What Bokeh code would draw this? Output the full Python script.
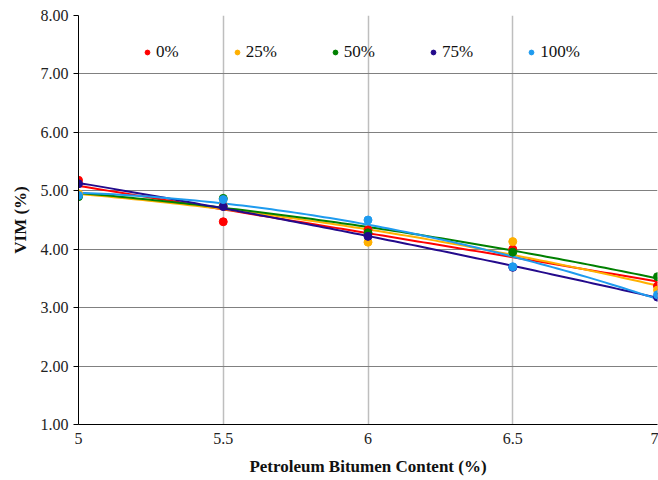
import numpy as np
from bokeh.plotting import figure
from bokeh.models import Legend, LegendItem, FixedTicker, NumeralTickFormatter, Range1d
from bokeh.embed import file_html
from bokeh.resources import INLINE

bitumen = [5, 5.5, 6, 6.5, 7]
vim_0 = [5.18, 4.47, 4.33, 4.00, 3.37]
vim_25 = [4.95, 4.75, 4.12, 4.13, 3.30]
vim_50 = [4.90, 4.87, 4.28, 3.95, 3.53]
vim_75 = [5.12, 4.73, 4.22, 3.69, 3.18]
vim_100 = [4.92, 4.85, 4.50, 3.70, 3.22]
labels = ["0%", "25%", "50%", "75%", "100%"]
colors = ["#FF0000", "#FFB000", "#008000", "#230A8C", "#1E9BEF"]
series = [vim_0, vim_25, vim_50, vim_75, vim_100]

p = figure(width=658, height=480, output_backend="svg", toolbar_location=None,
           x_range=Range1d(5, 7), y_range=Range1d(1, 8),
           min_border_left=78, min_border_right=1, min_border_top=15, min_border_bottom=56)
p.outline_line_color = None
p.background_fill_color = "white"

p.xaxis.ticker = FixedTicker(ticks=bitumen)
p.yaxis.ticker = FixedTicker(ticks=[1, 2, 3, 4, 5, 6, 7, 8])
p.yaxis.formatter = NumeralTickFormatter(format="0.00")
for ax in (p.xaxis[0], p.yaxis[0]):
    ax.axis_line_color = "black"
    ax.major_tick_line_color = "black"
    ax.minor_tick_line_color = None
    ax.major_label_text_font = "Liberation Serif"
    ax.major_label_text_font_size = "16px"
    ax.major_label_text_color = "#222222"
    ax.axis_label_text_font = "Liberation Serif"
    ax.axis_label_text_font_style = "bold"
    ax.axis_label_text_font_size = "17px"
    ax.axis_label_text_color = "#111111"
p.xaxis.major_tick_out = 0
p.xaxis.major_tick_in = 0
p.yaxis.major_tick_out = 5
p.yaxis.major_tick_in = 0
p.xaxis.axis_label = "Petroleum Bitumen Content (%)"
p.yaxis.axis_label = "VIM (%)"
p.xaxis.major_label_standoff = 8
p.xaxis.axis_label_standoff = 10
p.yaxis.axis_label_standoff = 8

p.xgrid.grid_line_color = "#BEBEBE"
p.xgrid.grid_line_width = 1.5
p.ygrid.grid_line_color = "#808080"
p.ygrid.grid_line_width = 1.2

xs = np.linspace(5, 7, 100)
items = []
for vals, lab, col in zip(series, labels, colors):
    coef = np.polyfit(bitumen, vals, 2)
    p.line(xs, np.polyval(coef, xs), line_color=col, line_width=2)
for vals, lab, col in zip(series, labels, colors):
    r = p.scatter(bitumen, vals, size=8, fill_color=col, line_color=col)
    items.append(LegendItem(label=lab, renderers=[r]))

legend = Legend(items=items, orientation="horizontal", location=(63, 362),
                background_fill_alpha=0, border_line_color=None,
                glyph_width=12, glyph_height=12, label_standoff=3, spacing=52,
                label_text_font="Liberation Serif", label_text_font_size="17px",
                label_text_color="#111111", padding=4, margin=0)
p.add_layout(legend, "center")

open("out.html", "w").write(file_html(p, INLINE))
